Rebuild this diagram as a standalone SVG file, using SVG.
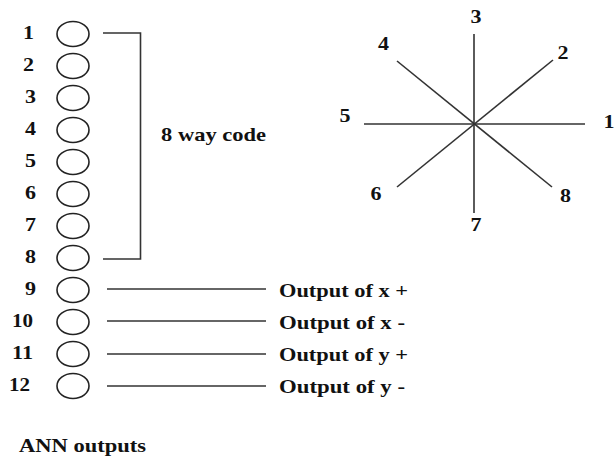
<svg xmlns="http://www.w3.org/2000/svg" width="616" height="460" viewBox="0 0 616 460">
<style>
text{font-family:"Liberation Serif","Times New Roman",serif;font-weight:bold;font-size:19px;fill:#111}
.n{fill:#fff;stroke:#222;stroke-width:1.6}
.c line,.c polyline{stroke:#333;stroke-width:1.6;fill:none}
.m{text-anchor:middle}
</style>
<rect width="616" height="460" fill="#fff"/>
<g id="nodes">
<g id="n1"><ellipse class="n" cx="73" cy="34" rx="16" ry="12.5"/><text x="23" y="39" textLength="11" lengthAdjust="spacingAndGlyphs">1</text></g>
<g id="n2"><ellipse class="n" cx="73" cy="66" rx="16" ry="12.5"/><text x="23" y="71" textLength="11" lengthAdjust="spacingAndGlyphs">2</text></g>
<g id="n3"><ellipse class="n" cx="73" cy="98" rx="16" ry="12.5"/><text x="25" y="103" textLength="11" lengthAdjust="spacingAndGlyphs">3</text></g>
<g id="n4"><ellipse class="n" cx="73" cy="130" rx="16" ry="12.5"/><text x="25" y="135" textLength="11" lengthAdjust="spacingAndGlyphs">4</text></g>
<g id="n5"><ellipse class="n" cx="73" cy="162" rx="16" ry="12.5"/><text x="25" y="167" textLength="11" lengthAdjust="spacingAndGlyphs">5</text></g>
<g id="n6"><ellipse class="n" cx="73" cy="194" rx="16" ry="12.5"/><text x="25" y="199" textLength="11" lengthAdjust="spacingAndGlyphs">6</text></g>
<g id="n7"><ellipse class="n" cx="73" cy="226" rx="16" ry="12.5"/><text x="25" y="231" textLength="11" lengthAdjust="spacingAndGlyphs">7</text></g>
<g id="n8"><ellipse class="n" cx="73" cy="258" rx="16" ry="12.5"/><text x="25" y="263" textLength="11" lengthAdjust="spacingAndGlyphs">8</text></g>
<g id="n9"><ellipse class="n" cx="73" cy="290" rx="16" ry="12.5"/><text x="25" y="295" textLength="11" lengthAdjust="spacingAndGlyphs">9</text></g>
<g id="n10"><ellipse class="n" cx="73" cy="322" rx="16" ry="12.5"/><text x="12" y="327" textLength="21" lengthAdjust="spacingAndGlyphs">10</text></g>
<g id="n11"><ellipse class="n" cx="73" cy="354" rx="16" ry="12.5"/><text x="12" y="359" textLength="21" lengthAdjust="spacingAndGlyphs">11</text></g>
<g id="n12"><ellipse class="n" cx="73" cy="386" rx="16" ry="12.5"/><text x="9" y="391" textLength="21" lengthAdjust="spacingAndGlyphs">12</text></g>
</g>
<g id="connectors" class="c">
<polyline points="103,33 140.5,33 140.5,259 103,259"/>
<line x1="107" y1="289" x2="266" y2="289"/>
<line x1="107" y1="321" x2="266" y2="321"/>
<line x1="107" y1="354" x2="266" y2="354"/>
<line x1="107" y1="386" x2="266" y2="386"/>
<line x1="364" y1="124" x2="585" y2="124"/>
<line x1="474" y1="34" x2="474" y2="213"/>
<line x1="397" y1="61" x2="552" y2="187"/>
<line x1="553" y1="60" x2="397" y2="187"/>
</g>
<g id="labels">
<text x="161" y="141" textLength="105" lengthAdjust="spacingAndGlyphs">8 way code</text>
<text x="279" y="297" textLength="129" lengthAdjust="spacingAndGlyphs">Output of x +</text>
<text x="279" y="329" textLength="126" lengthAdjust="spacingAndGlyphs">Output of x -</text>
<text x="279" y="361" textLength="129" lengthAdjust="spacingAndGlyphs">Output of y +</text>
<text x="279" y="393" textLength="126" lengthAdjust="spacingAndGlyphs">Output of y -</text>
<text x="19" y="452" textLength="127" lengthAdjust="spacingAndGlyphs">ANN outputs</text>
</g>
<g id="star-labels">
<text class="m" x="476" y="23" textLength="11" lengthAdjust="spacingAndGlyphs">3</text>
<text class="m" x="563" y="59" textLength="11" lengthAdjust="spacingAndGlyphs">2</text>
<text class="m" x="383.5" y="50" textLength="11" lengthAdjust="spacingAndGlyphs">4</text>
<text class="m" x="345" y="122" textLength="11" lengthAdjust="spacingAndGlyphs">5</text>
<text class="m" x="609" y="128" textLength="11" lengthAdjust="spacingAndGlyphs">1</text>
<text class="m" x="376" y="200" textLength="11" lengthAdjust="spacingAndGlyphs">6</text>
<text class="m" x="565.5" y="202" textLength="11" lengthAdjust="spacingAndGlyphs">8</text>
<text class="m" x="476" y="231" textLength="11" lengthAdjust="spacingAndGlyphs">7</text>
</g>
</svg>
